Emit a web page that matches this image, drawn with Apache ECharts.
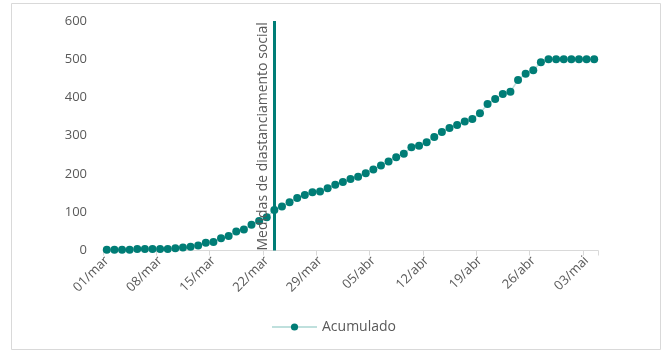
<!DOCTYPE html>
<html>
<head>
<meta charset="utf-8">
<script src="https://cdn.jsdelivr.net/npm/echarts@6/dist/echarts.min.js"></script>
<style>
  html, body { margin: 0; padding: 0; background: #ffffff; }
  #chart { width: 667px; height: 351px; }
</style>
</head>
<body>
<div id="chart"></div>
<script>
// Daily dates, 01/mar to 04/mai
const days = [
  '01/mar','02/mar','03/mar','04/mar','05/mar','06/mar','07/mar','08/mar','09/mar','10/mar',
  '11/mar','12/mar','13/mar','14/mar','15/mar','16/mar','17/mar','18/mar','19/mar','20/mar',
  '21/mar','22/mar','23/mar','24/mar','25/mar','26/mar','27/mar','28/mar','29/mar','30/mar',
  '31/mar','01/abr','02/abr','03/abr','04/abr','05/abr','06/abr','07/abr','08/abr','09/abr',
  '10/abr','11/abr','12/abr','13/abr','14/abr','15/abr','16/abr','17/abr','18/abr','19/abr',
  '20/abr','21/abr','22/abr','23/abr','24/abr','25/abr','26/abr','27/abr','28/abr','29/abr',
  '30/abr','01/mai','02/mai','03/mai','04/mai'
];

// Cumulative count per day
const acumulado = [
  2, 2, 2, 2, 4, 4, 4, 4, 4, 6,
  8, 10, 13, 20, 22, 32, 38, 50, 55, 67,
  77, 87, 106, 115, 126, 137, 145, 152, 154, 163,
  172, 179, 187, 193, 202, 212, 222, 233, 244, 253,
  270, 274, 283, 297, 310, 320, 328, 337, 344, 359,
  383, 396, 409, 415, 446, 462, 471, 492, 500, 500,
  500, 500, 500, 500, 500
];

// Date the distancing measures started
const medidasDia = '23/mar';
const medidasTexto = 'Medidas de diastanciamento social';

const teal = '#007d76';
const textGray = '#595959';
const font = '"Open Sans", "Noto Sans", sans-serif';

const chart = echarts.init(document.getElementById('chart'), null, { renderer: 'canvas' });

chart.setOption({
  animation: false,
  backgroundColor: '#ffffff',
  textStyle: { fontFamily: font },
  grid: { left: 103, right: 69, top: 21, bottom: 100.5, containLabel: false },
  graphic: [{
    type: 'rect',
    shape: { x: 11.5, y: 3.5, width: 649, height: 346 },
    style: { fill: 'none', stroke: '#d9d9d9', lineWidth: 1 },
    silent: true
  }],
  legend: {
    bottom: 12,
    left: 'center',
    itemWidth: 45,
    itemHeight: 9,
    itemGap: 8,
    textStyle: { color: textGray, fontSize: 14, fontFamily: font },
    data: ['Acumulado']
  },
  xAxis: {
    type: 'category',
    data: days,
    boundaryGap: true,
    axisLine: { lineStyle: { color: '#d9d9d9', width: 1 } },
    axisTick: { show: true, interval: 6, length: 5, lineStyle: { color: '#d9d9d9' } },
    axisLabel: {
      interval: 6,
      rotate: 45,
      color: textGray,
      fontSize: 13,
      fontFamily: font,
      margin: 8
    },
    splitLine: { show: false }
  },
  yAxis: {
    type: 'value',
    min: 0,
    max: 600,
    interval: 100,
    axisLine: { show: false },
    axisTick: { show: false },
    splitLine: { show: false },
    axisLabel: { color: textGray, fontSize: 13, fontFamily: font, margin: 16 }
  },
  series: [{
    name: 'Acumulado',
    type: 'line',
    data: acumulado,
    symbol: 'circle',
    symbolSize: 8,
    showAllSymbol: true,
    itemStyle: { color: teal },
    lineStyle: { color: '#bfe0dd', width: 1.5 },
    markLine: {
      silent: true,
      symbol: 'none',
      animation: false,
      lineStyle: { color: teal, width: 3, type: 'solid' },
      label: {
        show: true,
        formatter: medidasTexto,
        position: 'insideStartTop',
        distance: [0, 4],
        color: textGray,
        fontSize: 14,
        fontFamily: font
      },
      data: [{ xAxis: medidasDia }]
    }
  }]
});
</script>
</body>
</html>
